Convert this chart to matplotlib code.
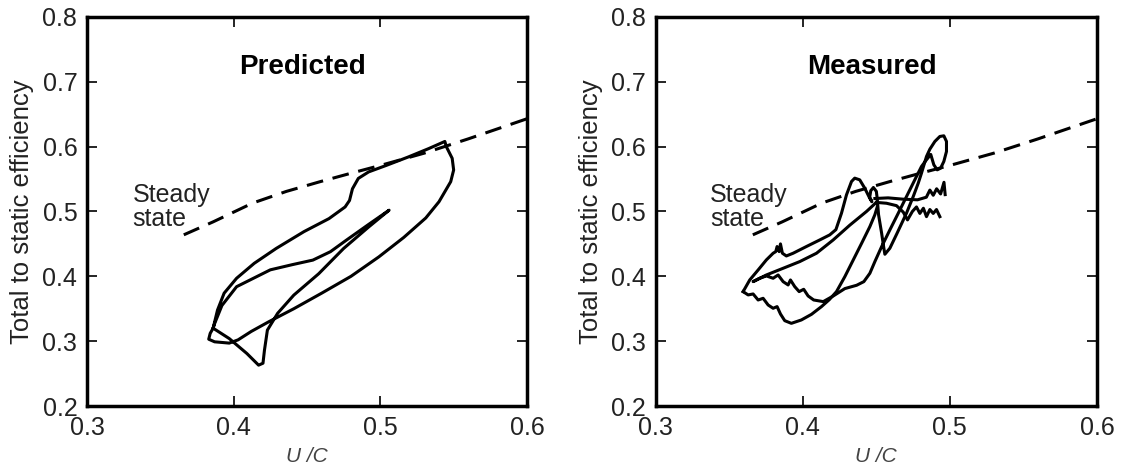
import matplotlib
matplotlib.use("Agg")
import matplotlib.pyplot as plt

plt.rcParams['font.family'] = ['Liberation Sans', 'DejaVu Sans']

# steady state efficiency (same curve in both panels)
steady_uc = [0.366, 0.386, 0.413, 0.436, 0.459, 0.480, 0.500, 0.530, 0.560, 0.600]
steady_eff = [0.464, 0.484, 0.513, 0.531, 0.546, 0.559, 0.571, 0.590, 0.612, 0.643]

# predicted unsteady loop
pred_uc = [0.386, 0.389, 0.3935, 0.402, 0.414, 0.429, 0.448, 0.465, 0.476, 0.479, 0.481,
           0.485, 0.492, 0.504, 0.519, 0.533, 0.544,
           0.545, 0.549, 0.550, 0.548, 0.540, 0.531, 0.516, 0.499, 0.480, 0.460, 0.441,
           0.424, 0.412, 0.403, 0.397, 0.387, 0.383, 0.384, 0.386,
           0.397, 0.409, 0.417, 0.420, 0.421, 0.423, 0.430, 0.441, 0.458, 0.475, 0.492, 0.506,
           0.492, 0.477, 0.466, 0.454, 0.440, 0.425, 0.402, 0.392, 0.387, 0.386]
pred_eff = [0.320, 0.348, 0.374, 0.397, 0.420, 0.443, 0.469, 0.489, 0.507, 0.517, 0.535,
            0.551, 0.561, 0.571, 0.584, 0.597, 0.608,
            0.600, 0.582, 0.564, 0.546, 0.515, 0.490, 0.460, 0.430, 0.400, 0.374, 0.350,
            0.330, 0.315, 0.302, 0.297, 0.299, 0.303, 0.312, 0.320,
            0.304, 0.281, 0.263, 0.266, 0.286, 0.317, 0.343, 0.371, 0.404, 0.443, 0.476, 0.502,
            0.480, 0.456, 0.438, 0.425, 0.418, 0.410, 0.384, 0.355, 0.327, 0.320]

# measured: lower loop and rising arc
meas_low_uc = [0.3594, 0.3628, 0.3662, 0.3696, 0.3730, 0.3764, 0.3798, 0.3825, 0.3848, 0.3877,
               0.3922, 0.3990, 0.4059, 0.4127, 0.4180, 0.4229, 0.4286, 0.4343, 0.4400, 0.4456,
               0.4490, 0.4506]
meas_low_eff = [0.3764, 0.3713, 0.3728, 0.3635, 0.3661, 0.3558, 0.3507, 0.3533, 0.3419, 0.3316,
                0.3275, 0.3327, 0.3414, 0.3533, 0.3640, 0.3764, 0.3996, 0.4253, 0.4510, 0.4767,
                0.4950, 0.5070]

# measured: upper edge, hump, ellipse and inner return
meas_up_uc = [0.3594, 0.3639, 0.3696, 0.3752, 0.3798, 0.3816, 0.3825, 0.3839, 0.3848, 0.3861,
              0.3888, 0.3934, 0.4024, 0.4115, 0.4183, 0.4225,
              0.4263, 0.4297, 0.4331, 0.4353, 0.4387, 0.4421, 0.4455, 0.4470,
              0.4455, 0.4462, 0.4480, 0.4500, 0.4506,
              0.4515, 0.4536, 0.4550, 0.4558,
              0.4592, 0.4638, 0.4705, 0.4751, 0.4785, 0.4807, 0.4841, 0.4864, 0.4898, 0.4932,
              0.4959, 0.4977, 0.4977, 0.4959, 0.4937, 0.4914, 0.4891, 0.4870,
              0.4835, 0.4807, 0.4773, 0.4739, 0.4694, 0.4649, 0.4592, 0.4536, 0.4490, 0.4456,
              0.4415, 0.4366, 0.4286, 0.4207, 0.4139,
              0.4074, 0.4036, 0.4006, 0.3975, 0.3945, 0.3916, 0.3900, 0.3866, 0.3832, 0.3798,
              0.3752, 0.3707, 0.3662,
              0.3752, 0.3866, 0.3979, 0.4093, 0.4206, 0.4320, 0.4433, 0.4500]
meas_up_eff = [0.3764, 0.3944, 0.4098, 0.4253, 0.4356, 0.4381, 0.4459, 0.4381, 0.4500, 0.4356,
               0.4314, 0.4356, 0.4459, 0.4561, 0.4639, 0.4720,
               0.4974, 0.5257, 0.5462, 0.5514, 0.5488, 0.5360, 0.5205, 0.5150,
               0.5220, 0.5320, 0.5370, 0.5310, 0.5200,
               0.4950, 0.4664, 0.4450, 0.4340,
               0.4433, 0.4650, 0.4974, 0.5231, 0.5437, 0.5591, 0.5848, 0.5961, 0.6080, 0.6157,
               0.6167, 0.6080, 0.5925, 0.5771, 0.5668, 0.5642, 0.5720, 0.5880,
               0.5780, 0.5694, 0.5540, 0.5385, 0.5179, 0.4973, 0.4716, 0.4458, 0.4227, 0.4047,
               0.3918, 0.3862, 0.3811, 0.3697, 0.3610,
               0.3635, 0.3697, 0.3800, 0.3764, 0.3841, 0.3944, 0.3867, 0.3918, 0.4021, 0.3970,
               0.4006, 0.3970, 0.3918,
               0.4021, 0.4124, 0.4227, 0.4356, 0.4560, 0.4790, 0.5000, 0.5140]

# measured: upper wiggly tail
meas_tail1_uc = [0.4490, 0.4580, 0.4680, 0.4780, 0.4840, 0.4864, 0.4887, 0.4910, 0.4937, 0.4960, 0.4968]
meas_tail1_eff = [0.5200, 0.5210, 0.5190, 0.5180, 0.5220, 0.5330, 0.5250, 0.5350, 0.5270, 0.5450, 0.5260]

# measured: arc and lower wiggly tail
meas_tail2_uc = [0.4500, 0.4569, 0.4637, 0.4683, 0.4712, 0.4745, 0.4773, 0.4796, 0.4820, 0.4841,
                 0.4864, 0.4887, 0.4909, 0.4932]
meas_tail2_eff = [0.5140, 0.5127, 0.5090, 0.4990, 0.4870, 0.5000, 0.5070, 0.4970, 0.5050, 0.4920,
                  0.5030, 0.4970, 0.5030, 0.4920]

fig = plt.figure(figsize=(11.21, 4.71), dpi=100)
ax1 = fig.add_axes([0.0776, 0.138, 0.3925, 0.826])
ax2 = fig.add_axes([0.585, 0.138, 0.3935, 0.826])

lw = 2.2
ax1.plot(pred_uc, pred_eff, color='black', lw=lw, solid_joinstyle='round')
ax2.plot(meas_low_uc, meas_low_eff, color='black', lw=lw, solid_joinstyle='round')
ax2.plot(meas_up_uc, meas_up_eff, color='black', lw=lw, solid_joinstyle='round')
ax2.plot(meas_tail1_uc, meas_tail1_eff, color='black', lw=lw, solid_joinstyle='round')
ax2.plot(meas_tail2_uc, meas_tail2_eff, color='black', lw=lw, solid_joinstyle='round')

for ax, title, tx in [(ax1, 'Predicted', 0.331), (ax2, 'Measured', 0.337)]:
    ax.plot(steady_uc, steady_eff, color='black', lw=lw, dashes=(5.5, 3.2))
    ax.set_xlim(0.3, 0.6)
    ax.set_ylim(0.2, 0.8)
    ax.set_xticks([0.3, 0.4, 0.5, 0.6])
    ax.set_yticks([0.2, 0.3, 0.4, 0.5, 0.6, 0.7, 0.8])
    ax.tick_params(direction='in', top=True, right=True, length=7, width=1.2,
                   labelsize=18, pad=7, labelcolor='#222222')
    for s in ax.spines.values():
        s.set_linewidth(2.5)
    ax.set_ylabel('Total to static efficiency', fontsize=18.5, color='#222222', labelpad=6)
    ax.set_xlabel('U /C', fontsize=15, style='italic', color='#444444', labelpad=5)
    ax.text(0.49, 0.872, title, transform=ax.transAxes, ha='center', va='center',
            fontsize=20, fontweight='bold')
    ax.text(tx, 0.507, 'Steady\nstate', ha='left', va='center', fontsize=18,
            linespacing=1.0, color='#222222')

fig.savefig('out.png', dpi=100)
